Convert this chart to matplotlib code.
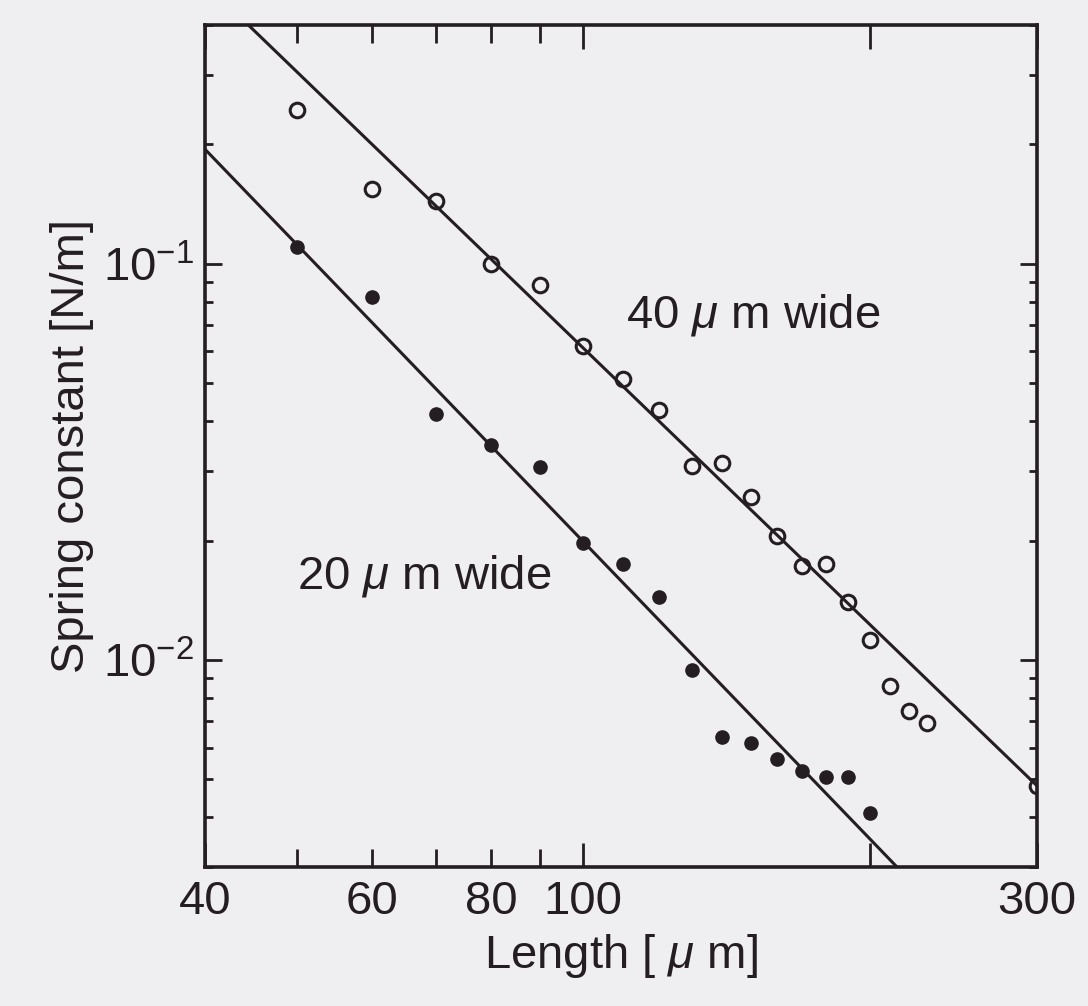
import numpy as np
import matplotlib
matplotlib.use("Agg")
import matplotlib.pyplot as plt

plt.rcParams['font.family'] = ['Liberation Sans', 'DejaVu Sans']
plt.rcParams['mathtext.fontset'] = 'custom'
plt.rcParams['mathtext.rm'] = 'Liberation Sans'
plt.rcParams['mathtext.it'] = 'Liberation Sans:italic'

# cantilever length [um]
length_40 = [50, 60, 70, 80, 90, 100, 110, 120, 130, 140, 150, 160, 170, 180,
             190, 200, 210, 220, 230, 300]
k_40 = [0.244, 0.154, 0.1436, 0.100, 0.0885, 0.0620, 0.0512, 0.0427, 0.0308,
        0.0313, 0.0257, 0.0205, 0.0172, 0.0174, 0.0140, 0.0112, 0.00859,
        0.00743, 0.00693, 0.0048]

length_20 = [50, 60, 70, 80, 90, 100, 110, 120, 130, 140, 150, 160, 170, 180,
             190, 200]
k_20 = [0.1098, 0.0825, 0.0417, 0.0348, 0.0306, 0.0197, 0.0174, 0.01443,
        0.00943, 0.00638, 0.00616, 0.00562, 0.00524, 0.00506, 0.00506, 0.0041]

# fitted lines, given by their two end points
fit_40_L = [40, 300]
fit_40_k = [0.51, 0.00481]
fit_20_L = [40, 300]
fit_20_k = [0.1943, 0.00129]

ink = '#241e22'
bg = '#efeef1'
fs = 34

fig = plt.figure(figsize=(10.88, 10.06), dpi=100, facecolor=bg)
ax = fig.add_axes([205/1088, 1 - 867/1006, 832/1088, 842/1006])
ax.set_facecolor(bg)

ax.plot(fit_40_L, fit_40_k, color=ink, lw=2.2)
ax.plot(fit_20_L, fit_20_k, color=ink, lw=2.2)
ax.plot(length_40, k_40, 'o', ms=10.5, mfc='none', mec=ink, mew=2.2)
ax.plot(length_20, k_20, 'o', ms=9.5, mfc=ink, mec=ink)

ax.set_xscale('log')
ax.set_yscale('log')
ax.set_xlim(40, 300)
ax.set_ylim(0.003, 0.4)

ax.set_xticks([40, 100, 200, 300])
ax.set_xticklabels(['40', '100', '', '300'])
ax.set_xticks([50, 60, 70, 80, 90], minor=True)
ax.set_xticklabels(['', '60', '', '80', ''], minor=True)
ax.set_yticks([0.01, 0.1])
ax.set_yticklabels([r'$10^{-2}$', r'$10^{-1}$'])
yminor = [m * 10.0**e for e in (-3, -2, -1) for m in range(2, 10)]
ax.set_yticks([v for v in yminor if 0.003 <= v <= 0.4], minor=True)
ax.yaxis.set_minor_formatter(plt.NullFormatter())

for s in ax.spines.values():
    s.set_linewidth(2.6)
    s.set_color(ink)
ax.tick_params(axis='both', which='both', direction='in', top=True, right=True,
               colors=ink, width=2.0, labelsize=fs)
ax.tick_params(axis='x', which='major', length=17, pad=9)
ax.tick_params(axis='x', which='minor', length=13, pad=9)
ax.tick_params(axis='y', which='major', length=12, pad=8)
ax.tick_params(axis='y', which='minor', length=6)

ax.set_xlabel(r'Length [ $\mu$ m]', fontsize=fs, color=ink, labelpad=6)
ax.set_ylabel('Spring constant [N/m]', fontsize=fs, color=ink, labelpad=6)

ax.text(151, 0.0689, r'40 $\mu$ m wide', fontsize=fs, color=ink,
        ha='center', va='baseline')
ax.text(68, 0.01514, r'20 $\mu$ m wide', fontsize=fs, color=ink,
        ha='center', va='baseline')

fig.savefig('out.png', dpi=100, facecolor=bg)
